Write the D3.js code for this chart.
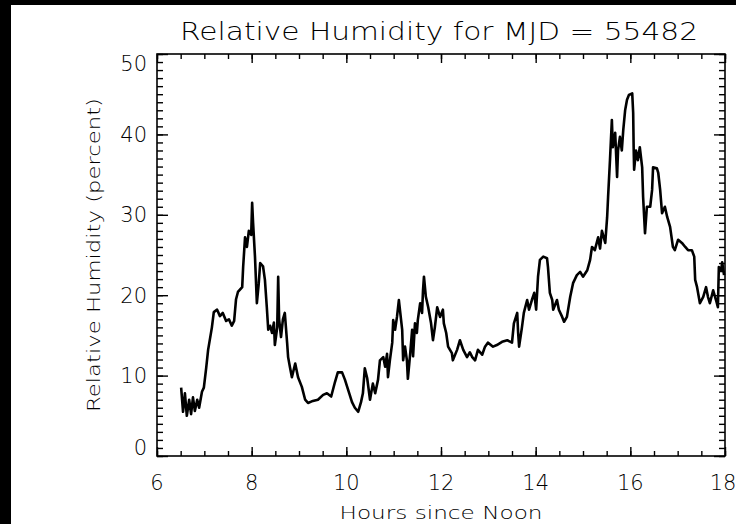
<!DOCTYPE html>
<html>
<head>
<meta charset="utf-8">
<script src="https://cdn.jsdelivr.net/npm/d3@7"></script>
<style>
    body { margin: 0; background: #000; }
    svg { display: block; }
    text { font-family: "DejaVu Sans", sans-serif; font-weight: 200; fill: #000; }
</style>
</head>
<body>
<div id="wrapper"></div>
<script>
// data
const hours = [
    6.51, 6.55, 6.59, 6.63, 6.68, 6.72, 6.76, 6.80, 6.85, 6.89, 6.95, 6.99, 7.04, 7.08, 7.16, 7.20,
    7.27, 7.33, 7.39, 7.46, 7.52, 7.58, 7.63, 7.67, 7.71, 7.80, 7.82, 7.86, 7.90, 7.94, 7.99, 8.01,
    8.03, 8.07, 8.11, 8.15, 8.18, 8.24, 8.28, 8.32, 8.35, 8.39, 8.43, 8.47, 8.49, 8.54, 8.56, 8.58,
    8.62, 8.66, 8.70, 8.75, 8.77, 8.81, 8.85, 8.92, 8.98, 9.06, 9.13, 9.19, 9.27, 9.40, 9.51, 9.59,
    9.68, 9.76, 9.82, 9.91, 9.97, 10.04, 10.12, 10.18, 10.25, 10.31, 10.35, 10.39, 10.44, 10.50, 10.56, 10.61,
    10.67, 10.71, 10.78, 10.82, 10.86, 10.88, 10.92, 10.97, 10.99, 11.03, 11.07, 11.11, 11.18, 11.20, 11.24, 11.28,
    11.30, 11.35, 11.39, 11.41, 11.45, 11.49, 11.51, 11.56, 11.60, 11.62, 11.64, 11.68, 11.73, 11.79, 11.83, 11.87,
    11.92, 11.98, 12.04, 12.06, 12.11, 12.15, 12.23, 12.25, 12.34, 12.40, 12.47, 12.55, 12.61, 12.66, 12.72, 12.78,
    12.87, 12.93, 12.99, 13.10, 13.18, 13.29, 13.40, 13.50, 13.54, 13.61, 13.63, 13.65, 13.71, 13.75, 13.82, 13.86,
    13.92, 13.97, 14.01, 14.05, 14.09, 14.16, 14.24, 14.26, 14.30, 14.35, 14.37, 14.45, 14.49, 14.56, 14.60, 14.66,
    14.73, 14.79, 14.87, 14.94, 15.00, 15.09, 15.15, 15.19, 15.25, 15.32, 15.36, 15.40, 15.47, 15.51, 15.53, 15.57,
    15.61, 15.63, 15.68, 15.72, 15.74, 15.78, 15.82, 15.85, 15.89, 15.93, 15.97, 16.04, 16.06, 16.07, 16.08, 16.12,
    16.16, 16.20, 16.25, 16.27, 16.31, 16.35, 16.42, 16.46, 16.48, 16.56, 16.59, 16.63, 16.67, 16.73, 16.78, 16.84,
    16.90, 16.94, 17.01, 17.09, 17.16, 17.22, 17.30, 17.35, 17.37, 17.41, 17.47, 17.54, 17.60, 17.64, 17.68, 17.75,
    17.81, 17.85, 17.87, 17.92, 17.94, 17.98
]
const humidity = [
    8.5, 5.5, 7.8, 5.0, 7.0, 5.2, 7.3, 5.6, 7.0, 6.0, 8.0, 8.5, 11.0, 13.2, 16.0, 17.9,
    18.2, 17.4, 17.8, 16.8, 17.0, 16.2, 16.8, 19.5, 20.4, 21.0, 23.5, 27.2, 26.0, 28.0, 27.5, 31.5,
    29.0, 24.8, 19.0, 21.5, 24.0, 23.6, 21.9, 18.5, 15.7, 16.2, 15.3, 16.6, 13.8, 16.0, 22.3, 17.0,
    14.8, 17.0, 17.8, 14.0, 12.3, 11.0, 9.8, 11.5, 9.8, 8.6, 7.0, 6.6, 6.8, 7.0, 7.6, 7.8,
    7.4, 9.2, 10.4, 10.4, 9.5, 8.2, 6.7, 6.0, 5.5, 6.7, 7.8, 10.9, 9.7, 7.0, 9.0, 7.8,
    9.5, 11.9, 12.3, 11.1, 12.7, 9.8, 11.9, 14.1, 16.9, 15.7, 17.3, 19.4, 15.7, 11.9, 13.6, 11.9,
    9.6, 12.8, 15.7, 12.4, 16.5, 15.3, 16.9, 19.0, 17.8, 20.6, 22.3, 19.8, 18.5, 16.5, 14.4, 16.0,
    18.5, 17.3, 18.2, 16.5, 15.3, 13.6, 12.8, 11.9, 13.2, 14.4, 13.2, 12.3, 12.9, 12.3, 11.9, 13.2,
    12.6, 13.6, 14.1, 13.6, 13.8, 14.2, 14.4, 14.1, 16.5, 17.8, 15.3, 13.6, 16.0, 17.8, 19.4, 18.2,
    19.4, 20.3, 18.2, 22.3, 24.4, 24.8, 24.6, 23.5, 20.3, 19.4, 18.2, 19.4, 18.2, 17.3, 16.7, 17.3,
    19.8, 21.5, 22.5, 22.9, 22.3, 23.1, 24.4, 26.0, 25.6, 27.2, 25.8, 28.0, 26.5, 29.7, 32.2, 36.8,
    41.8, 38.4, 40.2, 34.7, 38.0, 39.7, 38.0, 40.5, 43.0, 44.3, 44.9, 45.1, 42.7, 38.4, 35.6, 38.0,
    36.8, 38.4, 35.9, 32.2, 27.7, 31.0, 31.0, 33.1, 35.9, 35.8, 35.2, 33.1, 30.2, 31.0, 29.7, 28.5,
    26.0, 25.6, 26.9, 26.5, 26.0, 25.6, 25.6, 24.8, 21.9, 21.0, 19.0, 19.8, 21.0, 19.8, 19.0, 20.6,
    19.4, 18.5, 23.5, 23.1, 24.1, 22.5
]
const xTickValues = [6, 8, 10, 12, 14, 16, 18]
const xMinorValues = d3.range(6, 18.01, 0.5)
const yTickValues = [0, 10, 20, 30, 40, 50]
const yMinorValues = d3.range(0, 51, 1)
const title = "Relative Humidity for MJD = 55482"
const xTitle = "Hours since Noon"
const yTitle = "Relative Humidity (percent)"

const dataset = hours.map((h, i) => ({ h: h, rh: humidity[i] }))

// dimensions
let dimensions = {
    width: 736,
    height: 524,
    margin: { top: 54, right: 11, bottom: 68, left: 157 }
}
dimensions.boundedWidth = dimensions.width - dimensions.margin.left - dimensions.margin.right
dimensions.boundedHeight = dimensions.height - dimensions.margin.top - dimensions.margin.bottom

const wrapper = d3.select("#wrapper")
    .append("svg")
    .attr("width", dimensions.width)
    .attr("height", dimensions.height)

// white page with the black strip at top and left
wrapper.append("rect")
    .attr("x", 11).attr("y", 5)
    .attr("width", dimensions.width - 11)
    .attr("height", dimensions.height - 5)
    .attr("fill", "#fff")

const bounds = wrapper.append("g")
    .attr("transform", `translate(${dimensions.margin.left},${dimensions.margin.top})`)

// scales
const xScale = d3.scaleLinear()
    .domain([6, 18])
    .range([0, dimensions.boundedWidth])
const yScale = d3.scaleLinear()
    .domain([0, 50])
    .range([dimensions.boundedHeight, 0])

// ticks, all pointing inwards on four sides
function tickAxis(axis, values, size) {
    return axis.tickValues(values).tickSize(-size).tickSizeOuter(0).tickFormat("")
}
const axes = [
    [tickAxis(d3.axisBottom(xScale), xMinorValues, 5), `translate(0,${dimensions.boundedHeight})`],
    [tickAxis(d3.axisBottom(xScale), xTickValues, 9), `translate(0,${dimensions.boundedHeight})`],
    [tickAxis(d3.axisTop(xScale), xMinorValues, 5), null],
    [tickAxis(d3.axisTop(xScale), xTickValues, 9), null],
    [tickAxis(d3.axisLeft(yScale), yMinorValues, 6), null],
    [tickAxis(d3.axisLeft(yScale), yTickValues, 11), null],
    [tickAxis(d3.axisRight(yScale), yMinorValues, 6), `translate(${dimensions.boundedWidth},0)`],
    [tickAxis(d3.axisRight(yScale), yTickValues, 11), `translate(${dimensions.boundedWidth},0)`]
]
axes.forEach(([axis, tr]) => {
    const g = bounds.append("g").call(axis)
    if (tr) g.attr("transform", tr)
    g.select(".domain").remove()
    g.selectAll(".tick line").attr("stroke", "#000").attr("stroke-width", 1.4)
})

bounds.append("rect")
    .attr("width", dimensions.boundedWidth)
    .attr("height", dimensions.boundedHeight)
    .attr("fill", "none")
    .attr("stroke", "#000")
    .attr("stroke-width", 1.6)

// tick labels (the last one kept inside the page)
bounds.append("g")
    .selectAll("text")
    .data(xTickValues)
    .join("text")
    .attr("x", d => Math.min(xScale(d), dimensions.boundedWidth + 11 - 13))
    .attr("y", dimensions.boundedHeight + 34)
    .attr("text-anchor", "middle")
    .style("font-size", "21px")
    .text(d => d)

bounds.append("g")
    .selectAll("text")
    .data(yTickValues)
    .join("text")
    .attr("x", -10)
    .attr("y", d => Math.min(Math.max(yScale(d), 9), dimensions.boundedHeight - 9))
    .attr("dy", "0.36em")
    .attr("text-anchor", "end")
    .style("font-size", "21px")
    .text(d => d)

// titles
wrapper.append("text")
    .attr("x", 439)
    .attr("y", 40)
    .attr("text-anchor", "middle")
    .attr("textLength", 518)
    .attr("lengthAdjust", "spacingAndGlyphs")
    .style("font-size", "24px")
    .text(title)

wrapper.append("text")
    .attr("x", 441)
    .attr("y", 519)
    .attr("text-anchor", "middle")
    .attr("textLength", 203)
    .attr("lengthAdjust", "spacingAndGlyphs")
    .style("font-size", "17px")
    .text(xTitle)

wrapper.append("text")
    .attr("transform", "translate(100,255) rotate(-90)")
    .attr("text-anchor", "middle")
    .attr("textLength", 314)
    .attr("lengthAdjust", "spacingAndGlyphs")
    .style("font-size", "17px")
    .text(yTitle)

// data line
const lineGenerator = d3.line()
    .x(d => xScale(d.h))
    .y(d => yScale(d.rh))

bounds.append("path")
    .datum(dataset)
    .attr("d", lineGenerator)
    .attr("fill", "none")
    .attr("stroke", "#000")
    .attr("stroke-width", 2.6)
    .attr("stroke-linejoin", "round")
</script>
</body>
</html>
